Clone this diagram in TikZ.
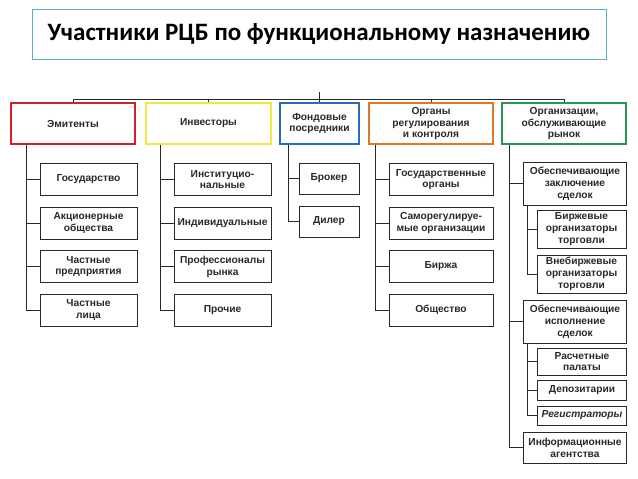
\documentclass[tikz,border=0pt]{standalone}
\usepackage{fontspec}
\setmainfont{Liberation Sans}
\newfontfamily\titlefont{Carlito}
\usetikzlibrary{positioning}

\definecolor{hdred}{RGB}{214,30,38}
\definecolor{hdyellow}{RGB}{240,232,60}
\definecolor{hdblue}{RGB}{40,110,190}
\definecolor{hdorange}{RGB}{222,120,40}
\definecolor{hdgreen}{RGB}{40,150,85}
\definecolor{ttlblue}{RGB}{90,175,205}
\definecolor{ink}{RGB}{40,40,40}

\begin{document}
\begin{tikzpicture}[
  x=1pt, y=-1pt,
  node distance=10.5pt,
  ttl/.style={rectangle, draw=ttlblue, line width=1pt, minimum width=574pt, minimum height=50pt, font=\titlefont\bfseries\fontsize{25}{29}\selectfont},
  head/.style={rectangle, draw, line width=1.7pt, align=center, inner sep=2pt, minimum height=41pt, text=ink, font=\bfseries\fontsize{10.2}{11.8}\selectfont},
  box/.style={rectangle, draw=ink, line width=1pt, align=center, inner sep=1pt, minimum height=32pt, text=ink, font=\bfseries\fontsize{10.2}{11.8}\selectfont},
  link/.style={draw=ink, line width=1pt}
]
\useasboundingbox (0,0) rectangle (638,479);

% Title
\node[ttl] (title) at (319,34) {Участники РЦБ по функциональному назначению};

% Top layer: groups of participants
\node[head, draw=hdred, minimum width=124pt] (emit) at (73,123.5) {Эмитенты};
\node[head, draw=hdyellow, minimum width=125pt] (inv) at (208.5,123.5) {Инвесторы};
\node[head, draw=hdblue, minimum width=79pt] (posr) at (319.5,123.5) {Фондовые\\посредники};
\node[head, draw=hdorange, minimum width=124pt] (regul) at (431,123.5) {Органы\\регулирования\\и контроля};
\node[head, draw=hdgreen, minimum width=124pt] (serv) at (564,123.5) {Организации,\\обслуживающие\\рынок};

\coordinate (bus) at (319.5,99);
\coordinate (root) at (319.5,92);

% Edges: top bus
\draw[link] (root) -- (bus);
\draw[link] (emit.north) -- (emit.north |- bus) -- (serv.north |- bus) -- (serv.north);
\draw[link] (inv.north) -- (inv.north |- bus);
\draw[link] (posr.north) -- (posr.north |- bus);
\draw[link] (regul.north) -- (regul.north |- bus);

% Emitents
\node[box, minimum width=97pt] (gos) at (88.5,179.5) {Государство};
\node[box, minimum width=97pt, below=of gos] (ao) {Акционерные\\общества};
\node[box, minimum width=97pt, below=of ao] (pred) {Частные\\предприятия};
\node[box, minimum width=97pt, below=of pred] (lica) {Частные\\лица};

% Investors
\node[box, minimum width=97pt] (inst) at (222.5,179.5) {Институцио-\\нальные};
\node[box, minimum width=97pt, below=of inst] (indiv) {Индивидуальные};
\node[box, minimum width=97pt, below=of indiv] (prof) {Профессионалы\\рынка};
\node[box, minimum width=97pt, below=of prof] (proch) {Прочие};

% Intermediaries
\node[box, minimum width=60pt, minimum height=31pt] (broker) at (329,178.5) {Брокер};
\node[box, minimum width=60pt, minimum height=31pt, below=11pt of broker] (diler) {Дилер};

% Regulators
\node[box, minimum width=104pt] (gosorg) at (441,179.5) {Государственные\\органы};
\node[box, minimum width=104pt, below=of gosorg] (sro) {Саморегулируе-\\мые организации};
\node[box, minimum width=104pt, below=of sro] (birzha) {Биржа};
\node[box, minimum width=104pt, below=of birzha] (obsh) {Общество};

% Market service organisations
\node[box, minimum width=103pt, minimum height=43pt] (zakl) at (575,183.5) {Обеспечивающие\\заключение\\сделок};
\node[box, minimum width=89pt, minimum height=38pt] (birzh) at (581.5,229) {Биржевые\\организаторы\\торговли};
\node[box, minimum width=89pt, minimum height=38pt, below=6pt of birzh] (vnebirzh) {Внебиржевые\\организаторы\\торговли};
\node[box, minimum width=103pt, minimum height=43pt] (ispoln) at (575,321.5) {Обеспечивающие\\исполнение\\сделок};
\node[box, minimum width=89pt, minimum height=27pt] (rasch) at (582,361.5) {Расчетные\\палаты};
\node[box, minimum width=89pt, minimum height=20pt, below=4pt of rasch] (depo) {Депозитарии};
\node[box, minimum width=89pt, minimum height=19pt, below=5pt of depo] (reestr) {\itshape Регистраторы};
\node[box, minimum width=103pt, minimum height=31pt] (info) at (575,447.5) {Информационные\\агентства};

% Spines
\coordinate (emitspine) at ([xshift=16pt]emit.south west);
\coordinate (invspine) at ([xshift=15pt]inv.south west);
\coordinate (posrspine) at ([xshift=9pt]posr.south west);
\coordinate (regulspine) at ([xshift=7pt]regul.south west);
\coordinate (servspine) at ([xshift=8pt]serv.south west);
\coordinate (zaklspine) at ([xshift=4pt]zakl.south west);
\coordinate (ispolnspine) at ([xshift=4pt]ispoln.south west);

% Edges: emitents
\draw[link] (emitspine) |- (lica.west);
\draw[link] (emitspine |- gos.west) -- (gos.west);
\draw[link] (emitspine |- ao.west) -- (ao.west);
\draw[link] (emitspine |- pred.west) -- (pred.west);

% Edges: investors
\draw[link] (invspine) |- (proch.west);
\draw[link] (invspine |- inst.west) -- (inst.west);
\draw[link] (invspine |- indiv.west) -- (indiv.west);
\draw[link] (invspine |- prof.west) -- (prof.west);

% Edges: intermediaries
\draw[link] (posrspine) |- (diler.west);
\draw[link] (posrspine |- broker.west) -- (broker.west);

% Edges: regulators
\draw[link] (regulspine) |- (obsh.west);
\draw[link] (regulspine |- gosorg.west) -- (gosorg.west);
\draw[link] (regulspine |- sro.west) -- (sro.west);
\draw[link] (regulspine |- birzha.west) -- (birzha.west);

% Edges: market service organisations
\draw[link] (servspine) |- (info.west);
\draw[link] (servspine |- zakl.west) -- (zakl.west);
\draw[link] (servspine |- ispoln.west) -- (ispoln.west);
\draw[link] (zaklspine) |- (vnebirzh.west);
\draw[link] (zaklspine |- birzh.west) -- (birzh.west);
\draw[link] (ispolnspine) |- (reestr.west);
\draw[link] (ispolnspine |- rasch.west) -- (rasch.west);
\draw[link] (ispolnspine |- depo.west) -- (depo.west);

\end{tikzpicture}
\end{document}
